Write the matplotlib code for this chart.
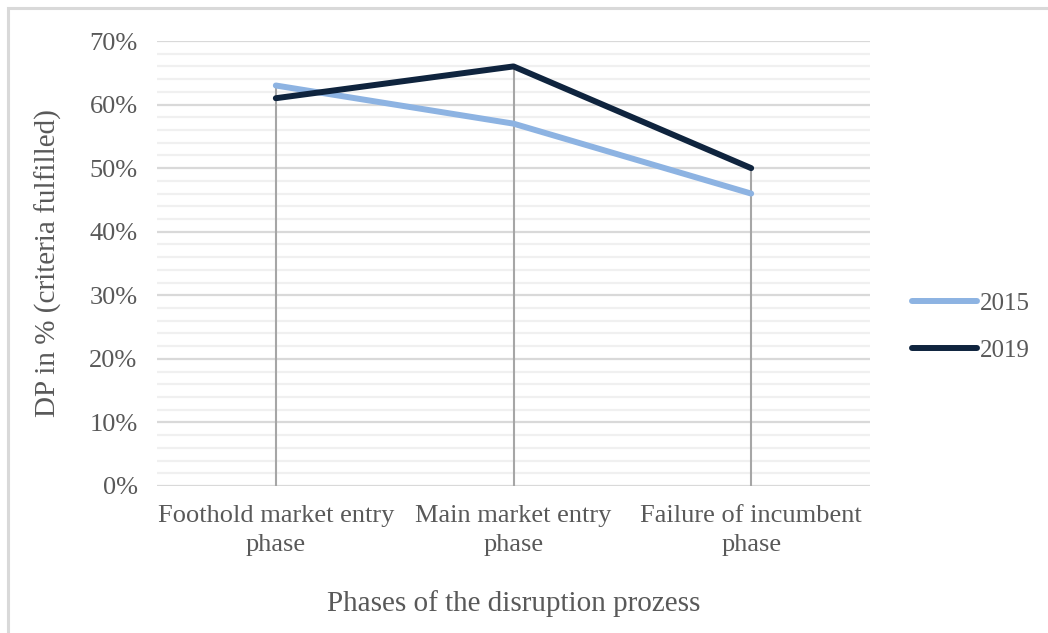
import matplotlib.pyplot as plt
from matplotlib.patches import Rectangle
from matplotlib.ticker import MultipleLocator, PercentFormatter

# phases of the disruption process
phases = ["Foothold market entry\nphase", "Main market entry\nphase", "Failure of incumbent\nphase"]
dp_2015 = [63, 57, 46]
dp_2019 = [61, 66, 50]

plt.rcParams['font.family'] = ['Liberation Serif', 'DejaVu Serif']

fig = plt.figure(figsize=(10.48, 6.33), dpi=100)
ax = fig.add_axes([157 / 1048, 1 - 486 / 633, (870 - 157) / 1048, (486 - 41) / 633])

# chart frame like in Excel
fig.patches.append(Rectangle((8 / 1048, -0.1), 1.2, (633 - 8) / 633 + 0.1,
                             transform=fig.transFigure, fill=False,
                             edgecolor="#d9d9d9", linewidth=2.2))

x = list(range(len(phases)))

# drop lines
for i in x:
    ax.plot([i, i], [0, max(dp_2015[i], dp_2019[i])], color="#a6a6a6", lw=1.5, zorder=2)

ax.plot(x, dp_2015, color="#8db3e2", lw=4.3, label="2015", zorder=3, solid_capstyle="round")
ax.plot(x, dp_2019, color="#0f243e", lw=4.3, label="2019", zorder=4, solid_capstyle="round")

ax.set_xlim(-0.5, 2.5)
ax.set_ylim(0, 70)
ax.yaxis.set_major_locator(MultipleLocator(10))
ax.yaxis.set_minor_locator(MultipleLocator(2))
ax.yaxis.set_major_formatter(PercentFormatter(decimals=0))
ax.grid(True, which="major", axis="y", color="#d9d9d9", lw=1.6, zorder=0)
ax.grid(True, which="minor", axis="y", color="#f0f0f0", lw=1.6, zorder=0)
ax.set_axisbelow(True)

ax.set_xticks(x)
ax.set_xticklabels(phases, linespacing=1.4)
ax.tick_params(axis="both", which="both", length=0, labelsize=19, labelcolor="#595959")
ax.tick_params(axis="y", pad=14)
ax.tick_params(axis="x", pad=14)
for s in ax.spines.values():
    s.set_visible(False)

ax.set_xlabel("Phases of the disruption prozess", fontsize=21, color="#595959", labelpad=24)
ax.set_ylabel("DP in % (criteria fulfilled)", fontsize=21, color="#595959", labelpad=20)

leg = ax.legend(loc="center left", bbox_to_anchor=(1.028, 0.357), frameon=False,
                fontsize=18, handlelength=2.6, handletextpad=0.1, labelspacing=1.0)
for t in leg.get_texts():
    t.set_color("#595959")

fig.savefig("out.png", dpi=100)
